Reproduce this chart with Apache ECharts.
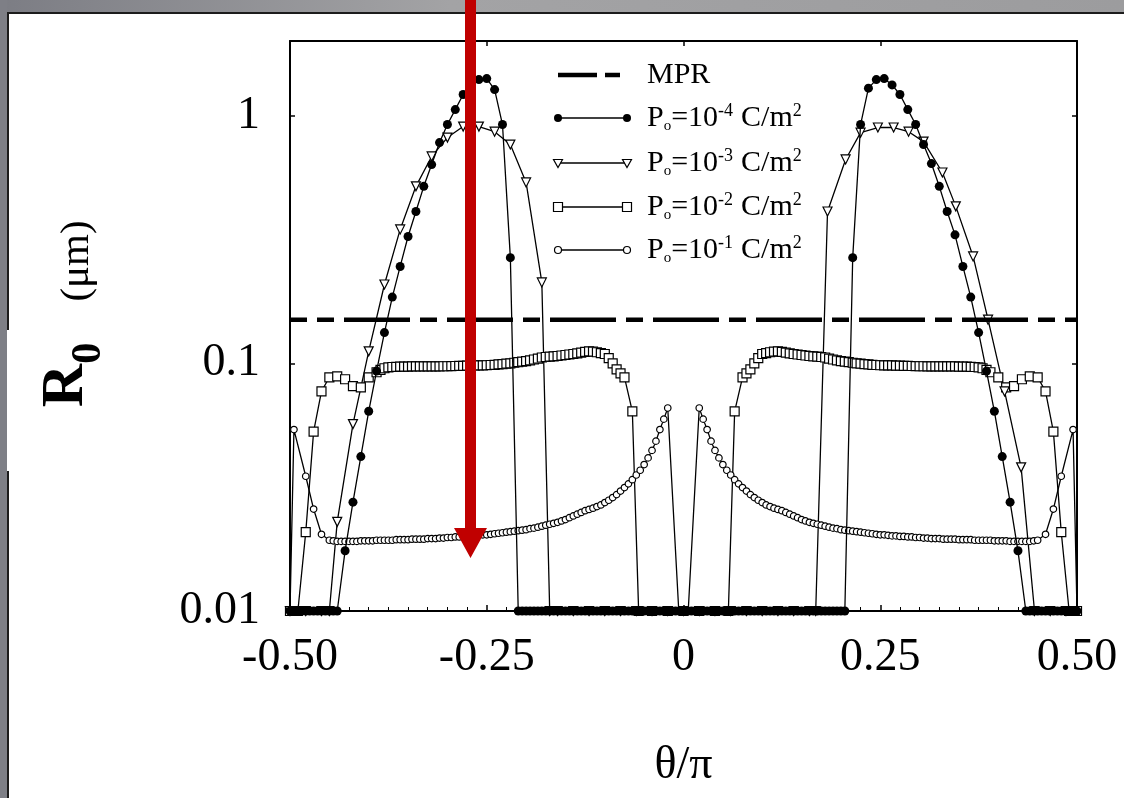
<!DOCTYPE html>
<html>
<head>
<meta charset="utf-8">
<title>R0 vs theta/pi</title>
<script src="https://cdn.jsdelivr.net/npm/echarts@6/dist/echarts.min.js"></script>
<style>
html, body { margin: 0; padding: 0; overflow: hidden; background: #fff; }
#main { width: 1124px; height: 798px; }
</style>
</head>
<body>
<div id="main"></div>
<script>
// tick labels
var xTicks = [-0.5, -0.25, 0, 0.25, 0.5];
var xTickLabels = ['-0.50', '-0.25', '0', '0.25', '0.50'];
var yTicks = [0.01, 0.1, 1];
var yTickLabels = ['0.01', '0.1', '1'];

// MPR level (um)
var mprLevel = 0.15;

// P0 = 1e-4 C/m2 (filled circles)
var thetaP4 = [-0.50,-0.495,-0.49,-0.485,-0.48,-0.475,-0.47,-0.465,-0.46,-0.455,-0.45,-0.445,-0.44,
    -0.43,-0.42,-0.41,-0.40,-0.39,-0.38,-0.37,-0.36,-0.35,-0.34,-0.33,-0.32,-0.31,-0.30,-0.29,-0.28,-0.27,-0.26,-0.25,-0.24,-0.23,-0.22,
    -0.21,-0.205,-0.20,-0.195,-0.19,-0.185,-0.18,-0.175,-0.17,-0.165,-0.16,-0.155,-0.15,-0.145,-0.14,-0.135,-0.13,-0.125,-0.12,-0.115,
    -0.11,-0.105,-0.10,-0.095,-0.09,-0.085,-0.08,-0.075,-0.07,-0.065,-0.06,-0.055,-0.05,-0.045,-0.04,-0.035,-0.03,-0.025,-0.02,-0.015,
    -0.01,-0.005,0.00,
    0.005,0.01,0.015,0.02,0.025,0.03,0.035,0.04,0.045,0.05,0.055,0.06,0.065,0.07,0.075,0.08,0.085,0.09,0.095,0.10,
    0.105,0.11,0.115,0.12,0.125,0.13,0.135,0.14,0.145,0.15,0.155,0.16,0.165,0.17,0.175,0.18,0.185,0.19,0.195,0.20,0.205,
    0.215,0.225,0.235,0.245,0.255,0.265,0.275,0.285,0.295,0.305,0.315,0.325,0.335,0.345,0.355,0.365,0.375,0.385,0.395,0.405,0.415,0.425,
    0.435,0.44,0.445,0.45,0.455,0.46,0.465,0.47,0.475,0.48,0.485,0.49,0.495,0.50];
var r0P4 = [0.01,0.01,0.01,0.01,0.01,0.01,0.01,0.01,0.01,0.01,0.01,0.01,0.01,
    0.0175,0.0275,0.042,0.064,0.093,0.133,0.185,0.246,0.325,0.41,0.518,0.634,0.778,0.92,1.057,1.216,1.33,1.397,1.41,1.273,0.92,0.267,
    0.01,0.01,0.01,0.01,0.01,0.01,0.01,0.01,0.01,0.01,0.01,0.01,0.01,0.01,0.01,0.01,0.01,0.01,0.01,0.01,
    0.01,0.01,0.01,0.01,0.01,0.01,0.01,0.01,0.01,0.01,0.01,0.01,0.01,0.01,0.01,0.01,0.01,0.01,0.01,0.01,
    0.01,0.01,0.01,
    0.01,0.01,0.01,0.01,0.01,0.01,0.01,0.01,0.01,0.01,0.01,0.01,0.01,0.01,0.01,0.01,0.01,0.01,0.01,0.01,
    0.01,0.01,0.01,0.01,0.01,0.01,0.01,0.01,0.01,0.01,0.01,0.01,0.01,0.01,0.01,0.01,0.01,0.01,0.01,0.01,0.01,
    0.267,0.92,1.29,1.397,1.41,1.33,1.216,1.057,0.92,0.764,0.64,0.518,0.41,0.33,0.246,0.185,0.133,0.093,0.064,0.042,0.0275,0.0175,
    0.01,0.01,0.01,0.01,0.01,0.01,0.01,0.01,0.01,0.01,0.01,0.01,0.01,0.01];

// P0 = 1e-3 C/m2 (open triangles)
var thetaP3 = [-0.50,-0.48,-0.46,-0.45,-0.44,-0.42,-0.40,-0.38,-0.36,-0.34,-0.32,-0.30,-0.28,-0.26,-0.24,-0.22,-0.20,-0.18,-0.17,-0.16,
    -0.14,-0.12,-0.10,-0.08,-0.06,-0.04,-0.02,0.00,
    0.02,0.04,0.06,0.08,0.10,0.12,0.14,0.16,0.168,0.183,0.206,0.225,0.247,0.267,0.286,0.305,0.329,0.346,0.368,0.387,
    0.408,0.429,0.446,0.466,0.486];
var r0P3 = [0.01,0.01,0.01,0.01,0.0229,0.0568,0.1118,0.208,0.347,0.518,0.684,0.815,0.903,0.903,0.861,0.764,0.537,0.212,0.01,0.01,
    0.01,0.01,0.01,0.01,0.01,0.01,0.01,0.01,
    0.01,0.01,0.01,0.01,0.01,0.01,0.01,0.01,0.01,0.41,0.665,0.853,0.895,0.895,0.861,0.785,0.589,0.43,0.27,0.15,
    0.077,0.038,0.01,0.01,0.01];

// P0 = 1e-2 C/m2 (open squares)
var thetaP2 = [-0.50,-0.49,-0.48,-0.47,-0.46,-0.45,-0.44,-0.43,-0.42,-0.41,-0.40,-0.39,
    -0.385,-0.38,-0.375,-0.37,-0.365,-0.36,-0.355,-0.35,-0.345,-0.34,-0.335,-0.33,-0.325,-0.32,-0.315,-0.31,-0.305,-0.30,
    -0.295,-0.29,-0.285,-0.28,-0.275,-0.27,-0.265,-0.26,-0.255,-0.25,-0.245,-0.24,-0.235,-0.23,-0.225,-0.22,-0.215,-0.21,-0.205,-0.20,
    -0.195,-0.19,-0.185,-0.18,-0.175,-0.17,-0.165,-0.16,-0.155,-0.15,-0.145,-0.14,-0.135,-0.13,-0.125,-0.12,-0.115,-0.11,-0.105,-0.10,
    -0.095,-0.09,-0.085,-0.08,-0.075,-0.065,-0.057,-0.04,-0.02,0.00,
    0.02,0.04,0.057,0.065,0.075,0.08,0.085,0.09,0.095,0.10,0.105,0.11,0.115,0.12,0.125,0.13,0.135,0.14,0.145,0.15,
    0.155,0.16,0.165,0.17,0.175,0.18,0.185,0.19,0.195,0.20,0.205,0.21,0.215,0.22,0.225,0.23,0.235,0.24,0.245,0.25,
    0.255,0.26,0.265,0.27,0.275,0.28,0.285,0.29,0.295,0.30,0.305,0.31,0.315,0.32,0.325,0.33,0.335,0.34,0.345,0.35,
    0.355,0.36,0.365,0.37,0.375,0.38,0.385,0.39,0.40,0.41,0.42,0.43,0.44,0.45,0.46,0.47,0.48,0.49,0.50];
var r0P2 = [0.01,0.01,0.0208,0.053,0.077,0.0878,0.0885,0.0862,0.0808,0.080,0.0878,0.092,
    0.094,0.0955,0.0962,0.0966,0.0968,0.097,0.097,0.097,0.0971,0.0971,0.0971,0.0972,0.0972,0.0972,0.0972,0.0972,0.0973,0.0973,
    0.0974,0.0975,0.0976,0.0977,0.0978,0.0979,0.098,0.098,0.0981,0.0982,0.0984,0.0986,0.0989,0.0992,0.0996,0.1,0.1005,0.101,0.1015,0.102,
    0.1028,0.1036,0.1045,0.1055,0.106,0.1063,0.1066,0.107,0.1075,0.108,0.1085,0.109,0.1097,0.1105,0.1112,0.1118,0.1115,0.1108,0.11,0.109,
    0.105,0.1,0.0945,0.091,0.0878,0.064,0.01,0.01,0.01,0.01,
    0.01,0.01,0.01,0.064,0.0878,0.091,0.0945,0.1,0.105,0.109,0.11,0.1108,0.1115,0.1118,0.1112,0.1105,0.1097,0.109,0.1085,0.108,
    0.1075,0.107,0.1066,0.1063,0.106,0.1055,0.1045,0.1036,0.1028,0.102,0.1015,0.101,0.1005,0.1,0.0996,0.0992,0.0989,0.0986,0.0984,0.0982,
    0.0981,0.098,0.098,0.0979,0.0978,0.0977,0.0976,0.0975,0.0974,0.0973,0.0973,0.0972,0.0972,0.0972,0.0972,0.0972,0.0971,0.0971,0.0971,0.097,
    0.097,0.097,0.0968,0.0966,0.0962,0.0955,0.094,0.092,0.0878,0.080,0.0808,0.0862,0.0885,0.0878,0.077,0.053,0.0208,0.01,0.01];

// P0 = 1e-1 C/m2 (small open circles)
var thetaP1 = [-0.50,-0.495,-0.48,-0.47,-0.46,
    -0.45,-0.445,-0.44,-0.435,-0.43,-0.425,-0.42,-0.415,-0.41,-0.405,-0.40,-0.395,-0.39,-0.385,-0.38,-0.375,-0.37,-0.365,-0.36,-0.355,
    -0.35,-0.345,-0.34,-0.335,-0.33,-0.325,-0.32,-0.315,-0.31,-0.305,-0.30,-0.295,-0.29,-0.285,-0.28,-0.275,-0.27,-0.265,-0.26,-0.255,
    -0.25,-0.245,-0.24,-0.235,-0.23,-0.225,-0.22,-0.215,-0.21,-0.205,-0.20,-0.195,-0.19,-0.185,-0.18,-0.175,-0.17,-0.165,-0.16,-0.155,
    -0.15,-0.145,-0.14,-0.135,-0.13,-0.125,-0.12,-0.115,-0.11,-0.105,-0.10,-0.095,-0.09,-0.085,-0.08,-0.075,-0.07,-0.065,-0.06,-0.055,
    -0.05,-0.045,-0.04,-0.035,-0.03,-0.025,-0.02,-0.006,0.00,
    0.006,0.02,0.025,0.03,0.035,0.04,0.045,0.05,0.055,0.06,0.065,0.07,0.075,0.08,0.085,0.09,0.095,0.10,0.105,0.11,
    0.115,0.12,0.125,0.13,0.135,0.14,0.145,0.15,0.155,0.16,0.165,0.17,0.175,0.18,0.185,0.19,0.195,0.20,0.205,0.21,
    0.215,0.22,0.225,0.23,0.235,0.24,0.245,0.25,0.255,0.26,0.265,0.27,0.275,0.28,0.285,0.29,0.295,0.30,0.305,0.31,
    0.315,0.32,0.325,0.33,0.335,0.34,0.345,0.35,0.355,0.36,0.365,0.37,0.375,0.38,0.385,0.39,0.395,0.40,0.405,0.41,
    0.415,0.42,0.425,0.43,0.435,0.44,0.445,0.45,0.46,0.47,0.48,0.495,0.50];
var r0P1 = [0.01,0.054,0.035,0.0258,0.0204,
    0.0193,0.0192,0.0191,0.0191,0.0191,0.0191,0.0191,0.0191,0.0192,0.0192,0.0192,0.0192,0.0193,0.0193,0.0193,0.0193,0.0193,0.0194,0.0194,0.0194,
    0.0194,0.0195,0.0195,0.0195,0.0195,0.0196,0.0196,0.0196,0.0197,0.0197,0.0198,0.0198,0.0199,0.0199,0.02,0.02,0.0201,0.0201,0.0202,0.0203,
    0.0203,0.0204,0.0205,0.0206,0.0207,0.0208,0.0209,0.021,0.0211,0.0212,0.0213,0.0215,0.0216,0.0218,0.022,0.0222,0.0224,0.0226,0.0228,0.0231,
    0.0234,0.0238,0.0242,0.0246,0.025,0.0254,0.0257,0.026,0.0264,0.0268,0.0274,0.028,0.0287,0.0295,0.0305,0.0315,0.0326,0.0339,0.0354,0.037,
    0.039,0.0415,0.0445,0.0485,0.054,0.0595,0.066,0.01,0.01,
    0.01,0.066,0.0595,0.054,0.0485,0.0445,0.0415,0.039,0.037,0.0354,0.0339,0.0326,0.0315,0.0305,0.0295,0.0287,0.028,0.0274,0.0268,0.0264,
    0.026,0.0257,0.0254,0.025,0.0246,0.0242,0.0238,0.0234,0.0231,0.0228,0.0226,0.0224,0.0222,0.022,0.0218,0.0216,0.0215,0.0213,0.0212,0.0211,
    0.021,0.0209,0.0208,0.0207,0.0206,0.0205,0.0204,0.0203,0.0203,0.0202,0.0201,0.0201,0.02,0.02,0.0199,0.0199,0.0198,0.0198,0.0197,0.0197,
    0.0196,0.0196,0.0196,0.0195,0.0195,0.0195,0.0195,0.0194,0.0194,0.0194,0.0194,0.0193,0.0193,0.0193,0.0193,0.0193,0.0192,0.0192,0.0192,0.0192,
    0.0191,0.0191,0.0191,0.0191,0.0191,0.0191,0.0192,0.0193,0.0204,0.0258,0.035,0.054,0.01];

var FONT = 'Liberation Serif';

function pairs(xs, ys)
{
    var out = [];
    for (var i = 0; i < xs.length; i++) {
        out.push([xs[i], ys[i]]);
    }
    return out;
}

function tickText(v, ticks, labels)
{
    for (var i = 0; i < ticks.length; i++) {
        if (Math.abs(v - ticks[i]) < 1e-6 * Math.max(Math.abs(ticks[i]), 1e-3)) {
            return labels[i];
        }
    }
    return '';
}

// one curve of the figure
function curve(name, xs, ys, symbol, size, filled, rotate, z)
{
    return {
        name       : name,
        type       : 'line',
        z          : z || 2,
        data       : pairs(xs, ys),
        symbol     : symbol,
        symbolSize : size,
        symbolRotate : rotate || 0,
        showAllSymbol : true,
        lineStyle  : {color: '#000', width: 1.3},
        itemStyle  : filled ? {color: '#000'} : {color: '#fff', borderColor: '#000', borderWidth: 1.2},
        emphasis   : {disabled: true}
    };
}

// legend marks drawn like the original (symbol at both ends of the line)
function legendMark(kind, cx, cy)
{
    var open = {fill: '#fff', stroke: '#000', lineWidth: 1.2};
    if (kind == 'dot') {
        return {type: 'circle', shape: {cx: cx, cy: cy, r: 4}, style: {fill: '#000'}, z: 20};
    }
    if (kind == 'ring') {
        return {type: 'circle', shape: {cx: cx, cy: cy, r: 3.5}, style: open, z: 20};
    }
    if (kind == 'box') {
        return {type: 'rect', shape: {x: cx - 4.5, y: cy - 4.5, width: 9, height: 9}, style: open, z: 20};
    }
    return {type: 'polygon', shape: {points: [[cx - 4.5, cy - 3.5], [cx + 4.5, cy - 3.5], [cx, cy + 4.5]]}, style: open, z: 20};
}

var legendRich = {
    n   : {fontSize: 30, fontFamily: FONT, lineHeight: 32, fill: '#000'},
    gap : {fontSize: 30, fontFamily: FONT, lineHeight: 32, fill: '#000', padding: [0, 0, 0, 8]},
    sup : {fontSize: 18, fontFamily: FONT, lineHeight: 17, verticalAlign: 'top', fill: '#000'},
    sub : {fontSize: 15, fontFamily: FONT, lineHeight: 14, verticalAlign: 'bottom', fill: '#000'}
};

function buildLegend()
{
    var rows = [
        {y: 118, kind: 'dot',  exp: '-4'},
        {y: 163, kind: 'tri',  exp: '-3'},
        {y: 207, kind: 'box',  exp: '-2'},
        {y: 250, kind: 'ring', exp: '-1'}
    ];
    var els = [
        {type: 'line', shape: {x1: 558, y1: 75, x2: 597, y2: 75}, style: {stroke: '#000', lineWidth: 4.5}, z: 20},
        {type: 'line', shape: {x1: 605, y1: 75, x2: 620, y2: 75}, style: {stroke: '#000', lineWidth: 4.5}, z: 20},
        {type: 'text', x: 647, y: 75, z: 20, style: {text: '{n|MPR}', rich: legendRich, align: 'left', verticalAlign: 'middle'}}
    ];
    for (var i = 0; i < rows.length; i++) {
        var r = rows[i];
        els.push({type: 'line', shape: {x1: 558, y1: r.y, x2: 627, y2: r.y}, style: {stroke: '#000', lineWidth: 1.5}, z: 20});
        els.push(legendMark(r.kind, 558, r.y));
        els.push(legendMark(r.kind, 627, r.y));
        els.push({
            type: 'text', x: 647, y: r.y, z: 20,
            style: {
                text: '{n|P}{sub|o}{n|=10}{sup|' + r.exp + '}{gap|C/m}{sup|2}',
                rich: legendRich, align: 'left', verticalAlign: 'middle'
            }
        });
    }
    return els;
}

function getEchart()
{
    var myChart = echarts.init(document.getElementById('main'));
    var axisFont = {fontSize: 46, color: '#000', fontFamily: FONT};
    var slideGrey = {
        type: 'linear', x: 0, y: 0, x2: 1, y2: 0,
        colorStops: [{offset: 0, color: '#7c7d84'}, {offset: 0.4, color: '#a3a3a5'}, {offset: 1, color: '#9c9c9e'}]
    };

    var graphics = [
        // grey slide background along the top and left edges, with the card border
        {type: 'rect', z: -10, silent: true, shape: {x: 0, y: 0, width: 1124, height: 12}, style: {fill: slideGrey}},
        {type: 'rect', z: -10, silent: true, shape: {x: 0, y: 0, width: 7, height: 798}, style: {fill: '#7e7f86'}},
        {type: 'line', z: -9, silent: true, shape: {x1: 7, y1: 13, x2: 1124, y2: 13}, style: {stroke: '#1c1c1c', lineWidth: 2}},
        {type: 'line', z: -9, silent: true, shape: {x1: 8, y1: 12, x2: 8, y2: 798}, style: {stroke: '#1c1c1c', lineWidth: 2}},
        // white box behind R0
        {type: 'rect', z: -5, silent: true, shape: {x: 7, y: 330, width: 117, height: 141}, style: {fill: '#fff'}},
        {type: 'text', x: 77, y: 261, rotation: Math.PI / 2, z: 5,
         style: {text: '(\u03bcm)', fontSize: 41, fontFamily: FONT, fill: '#000', align: 'center', verticalAlign: 'middle'}},
        {type: 'text', x: 66, y: 375, rotation: Math.PI / 2, z: 5,
         style: {
             text: '{r|R}{s|0}', align: 'center', verticalAlign: 'middle',
             rich: {
                 r: {fontSize: 60, fontWeight: 'bold', fontFamily: FONT, lineHeight: 88, fill: '#000'},
                 s: {fontSize: 42, fontWeight: 'bold', fontFamily: FONT, lineHeight: 44, verticalAlign: 'bottom', fill: '#000'}
             }
         }},
        // red arrow
        {type: 'polygon', z: 100, silent: true,
         shape: {points: [[465, 0], [476, 0], [476, 528], [487, 528], [470.5, 558], [454, 528], [465, 528]]},
         style: {fill: '#c00000'}}
    ].concat(buildLegend());

    var options =
    {
        animation : false,
        backgroundColor : '#fff',
        grid : {left: 290, right: 47, top: 41, bottom: 187},
        xAxis : [
        {
            type : 'value', min : -0.5, max : 0.5, interval : 0.25, position : 'bottom',
            axisLine  : {show: true, onZero: false, lineStyle: {color: '#000', width: 2}},
            axisTick  : {show: true, inside: true, length: 6, lineStyle: {color: '#000', width: 1.5}},
            minorTick : {show: true, splitNumber: 10, length: 4, lineStyle: {color: '#000', width: 1}},
            splitLine : {show: false},
            axisLabel : {
                margin: 24, fontSize: 46, color: '#000', fontFamily: FONT,
                formatter: function (v) { return tickText(v, xTicks, xTickLabels); }
            },
            name : '\u03b8/\u03c0', nameLocation : 'middle', nameGap : 132, nameTextStyle : axisFont
        },
        {
            type : 'value', min : -0.5, max : 0.5, interval : 0.25, position : 'top',
            axisLine  : {show: true, onZero: false, lineStyle: {color: '#000', width: 2}},
            axisTick  : {show: true, inside: true, length: 5, lineStyle: {color: '#000', width: 1.5}},
            axisLabel : {show: false},
            splitLine : {show: false}
        }],
        yAxis : [
        {
            type : 'log', logBase : 10, min : 0.01, max : 2, position : 'left',
            axisLine  : {show: true, onZero: false, lineStyle: {color: '#000', width: 2}},
            axisTick  : {show: true, inside: true, length: 5, lineStyle: {color: '#000', width: 1.5}},
            splitLine : {show: false},
            axisLabel : {
                margin: 30, fontSize: 46, color: '#000', fontFamily: FONT,
                formatter: function (v) { return tickText(v, yTicks, yTickLabels); }
            }
        },
        {
            type : 'log', logBase : 10, min : 0.01, max : 2, position : 'right',
            axisLine  : {show: true, onZero: false, lineStyle: {color: '#000', width: 2}},
            axisTick  : {show: true, inside: true, length: 5, lineStyle: {color: '#000', width: 1.5}},
            splitLine : {show: false},
            axisLabel : {show: false}
        }],
        graphic : graphics,
        series : [
        {
            name : 'MPR',
            type : 'line',
            data : [[-0.5, mprLevel], [0.5, mprLevel]],
            symbol : 'none',
            lineStyle : {color: '#000', width: 4.5, type: [66, 10, 17, 10], dashOffset: 49},
            emphasis : {disabled: true}
        },
        curve('P0=1e-1', thetaP1, r0P1, 'circle', 6.5, false),
        curve('P0=1e-2', thetaP2, r0P2, 'rect', 9, false),
        curve('P0=1e-3', thetaP3, r0P3, 'triangle', 9, false, 180),
        curve('P0=1e-4', thetaP4, r0P4, 'circle', 9, true, 0, 3)
        ]
    };
    myChart.setOption(options, true);
}

getEchart();
</script>
</body>
</html>
